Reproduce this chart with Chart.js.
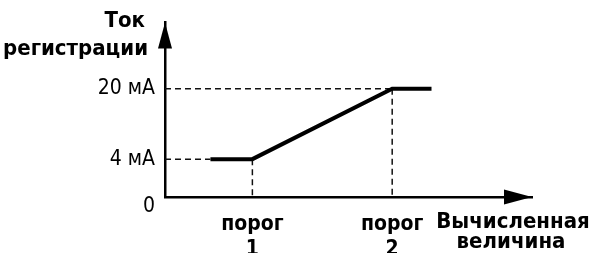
<!DOCTYPE html>
<html>
<head>
<meta charset="utf-8">
<script src="https://cdn.jsdelivr.net/npm/chart.js@4"></script>
<style>
  html, body { margin: 0; padding: 0; background: #fff; }
  #wrap { width: 589px; height: 253px; }
</style>
</head>
<body>
<div id="wrap"><canvas id="myChart"></canvas></div>
<script>
// Data
const thresholds = [1, 2.6];                  // порог 1, порог 2 (schematic x units)
const thresholdLabels = [['порог', '1'], ['порог', '2']];
const lineStartX = 0.52;
const lineEndX = 3.05;
const currentLevels = [4, 20];                // mA
const yTicks = [0, 4, 20];
const yTickLabels = ['0', '4 мА', '20 мА'];
const yTitle = ['Ток', 'регистрации'];
const xTitle = ['Вычисленная', 'величина'];

const FONT = "'Liberation Sans Narrow', 'DejaVu Sans Condensed', 'Liberation Sans', sans-serif";

// y axis is not to scale in the drawing: 0..4 mA is stretched
const yBreak = { value: 4, frac: 0.217 };
const yMax = 35;
const xMax = 4.2;

class BrokenScale extends Chart.LinearScale {
  toFrac(v) {
    if (v <= yBreak.value) return v / yBreak.value * yBreak.frac;
    return yBreak.frac + (v - yBreak.value) / (this.max - yBreak.value) * (1 - yBreak.frac);
  }
  getPixelForValue(v) {
    return this.getPixelForDecimal(this.toFrac(v));
  }
  getValueForPixel(p) {
    const d = this.getDecimalForPixel(p);
    if (d <= yBreak.frac) return d / yBreak.frac * yBreak.value;
    return yBreak.value + (d - yBreak.frac) / (1 - yBreak.frac) * (this.max - yBreak.value);
  }
}
BrokenScale.id = 'broken';
BrokenScale.defaults = Chart.LinearScale.defaults;
Chart.register(BrokenScale);

// Datasets
const mainLine = [
  { x: lineStartX, y: currentLevels[0] },
  { x: thresholds[0], y: currentLevels[0] },
  { x: thresholds[1], y: currentLevels[1] },
  { x: lineEndX, y: currentLevels[1] }
];

const dashStyle = {
  borderColor: '#111',
  borderWidth: 1.5,
  borderDash: [6, 4],
  pointRadius: 0,
  showLine: true,
  fill: false
};

const guides = [
  [{ x: 0, y: currentLevels[0] }, { x: lineStartX, y: currentLevels[0] }],
  [{ x: thresholds[0], y: currentLevels[0] }, { x: thresholds[0], y: 0 }],
  [{ x: 0, y: currentLevels[1] }, { x: thresholds[1], y: currentLevels[1] }],
  [{ x: thresholds[1], y: currentLevels[1] }, { x: thresholds[1], y: 0 }]
].map(d => Object.assign({ data: d }, dashStyle));

// arrows + titles
const decorPlugin = {
  id: 'decor',
  afterDraw(chart) {
    const ctx = chart.ctx;
    const a = chart.chartArea;
    ctx.save();
    ctx.fillStyle = '#000';
    // y arrow
    ctx.beginPath();
    ctx.moveTo(a.left, a.top);
    ctx.lineTo(a.left - 7, a.top + 26);
    ctx.lineTo(a.left + 7, a.top + 26);
    ctx.closePath();
    ctx.fill();
    // x arrow
    ctx.beginPath();
    ctx.moveTo(a.right, a.bottom);
    ctx.lineTo(a.right - 28, a.bottom - 7.5);
    ctx.lineTo(a.right - 28, a.bottom + 7.5);
    ctx.closePath();
    ctx.fill();

    // origin label
    ctx.font = '21px ' + FONT;
    ctx.textAlign = 'right';
    ctx.textBaseline = 'alphabetic';
    ctx.fillText(yTickLabels[0], 155, 212);

    // y title
    ctx.font = 'bold 22px ' + FONT;
    ctx.fillText(yTitle[0], 145, 27);
    ctx.fillText(yTitle[1], 148, 55);

    // x title
    ctx.font = 'bold 22px ' + FONT;
    ctx.textAlign = 'center';
    ctx.fillText(xTitle[0], 513, 228);
    ctx.fillText(xTitle[1], 511, 248);
    ctx.restore();
  }
};

const config = {
  type: 'scatter',
  data: {
    datasets: [
      {
        data: mainLine,
        borderColor: '#000',
        borderWidth: 4,
        pointRadius: 0,
        showLine: true,
        fill: false
      },
      ...guides
    ]
  },
  options: {
    responsive: true,
    maintainAspectRatio: false,
    animation: false,
    layout: { padding: { top: 22, right: 57, left: 0, bottom: 0 } },
    plugins: {
      legend: { display: false },
      tooltip: { enabled: false }
    },
    scales: {
      x: {
        type: 'linear',
        min: 0,
        max: xMax,
        grid: { display: false, drawTicks: false },
        border: { display: true, color: '#000', width: 2.5 },
        afterBuildTicks: (scale) => { scale.ticks = thresholds.map(v => ({ value: v })); },
        afterFit: (scale) => { scale.height = 56; },
        ticks: {
          autoSkip: false,
          maxRotation: 0,
          padding: 15,
          color: '#000',
          font: { family: FONT, size: 21, weight: 'bold', lineHeight: 1.2 },
          callback: (value, index) => thresholdLabels[index]
        }
      },
      y: {
        type: 'broken',
        min: 0,
        max: yMax,
        grid: { display: false, drawTicks: false },
        border: { display: true, color: '#000', width: 2.5 },
        afterBuildTicks: (scale) => { scale.ticks = yTicks.map(v => ({ value: v })); },
        afterFit: (scale) => { scale.width = 165; },
        ticks: {
          autoSkip: false,
          padding: 10,
          color: '#000',
          font: { family: FONT, size: 21 },
          callback: (value, index) => index === 0 ? '' : yTickLabels[index]
        }
      }
    }
  },
  plugins: [decorPlugin]
};

const myChart = new Chart(document.getElementById('myChart'), config);
</script>
</body>
</html>
